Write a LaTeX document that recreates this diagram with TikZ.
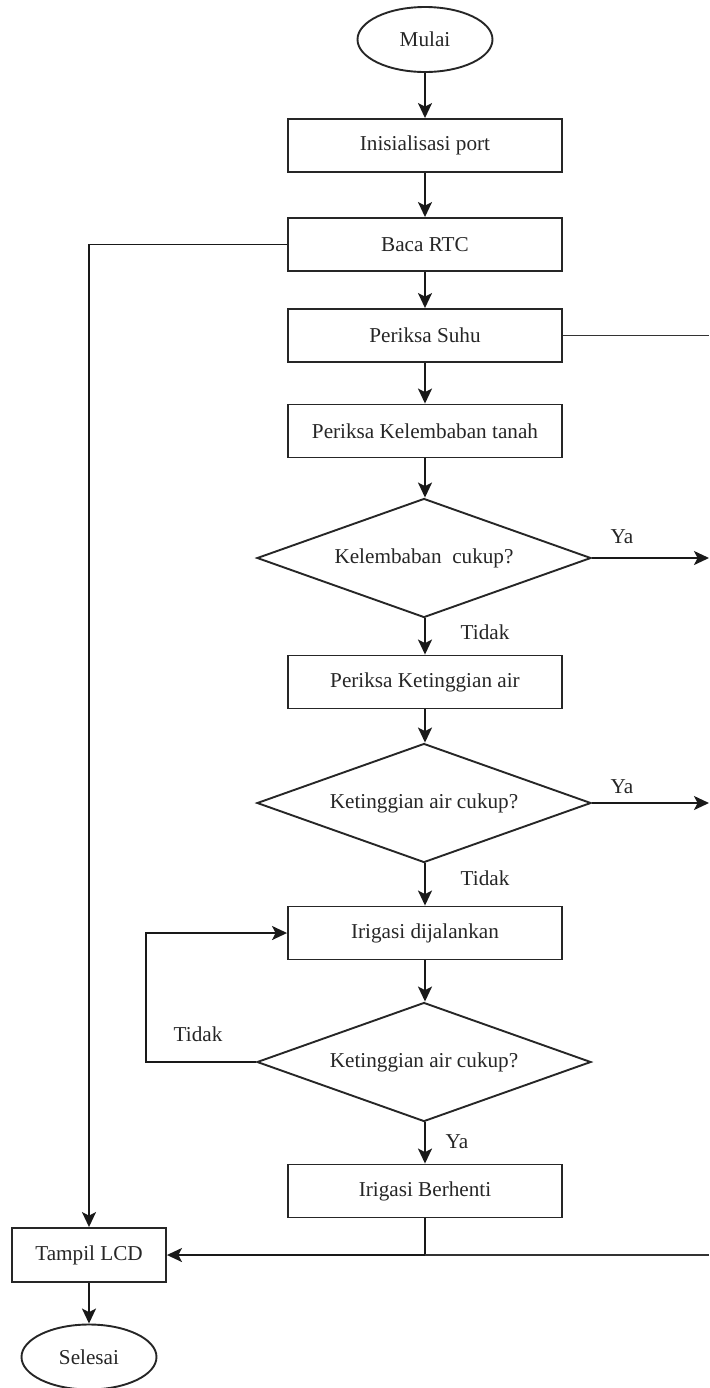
\documentclass[tikz,border=0pt]{standalone}
\usepackage{fontspec}
\setmainfont{Liberation Serif}
\usetikzlibrary{shapes.geometric,arrows.meta}
\begin{document}
\begin{tikzpicture}[x=0.5pt,y=-0.5pt,
 every node/.style={font=\fontsize{10.6}{12}\selectfont, text=black!85},
 proc/.style={draw=black!85, line width=0.95pt, minimum width=137pt, minimum height=26.5pt, inner sep=0pt},
 term/.style={draw=black!85, ellipse, line width=0.95pt, minimum width=67.5pt, minimum height=32.5pt, inner sep=0pt},
 dec/.style={draw=black!85, diamond, aspect=2.8, line width=0.95pt, minimum width=167pt, minimum height=59.5pt, inner sep=0pt},
 flow/.style={draw=black!90, line width=0.95pt, -{Stealth[length=7.5pt,width=7pt,inset=1.8pt]}},
 link/.style={draw=black!80, line width=0.95pt},
 lbl/.style={inner sep=0pt}]
\useasboundingbox (0,0) rectangle (709,1388);

\node[term] (mulai) at (425,39.5) {Mulai};
\node[proc] (init) at (425,145.5) {Inisialisasi port};
\node[proc] (baca) at (425,244.5) {Baca RTC};
\node[proc] (suhu) at (425,335.5) {Periksa Suhu};
\node[proc] (kel) at (425,431) {Periksa Kelembaban tanah};
\node[dec] (d1) at (424,558) {Kelembaban\ \ cukup?};
\node[proc] (ket) at (425,682) {Periksa Ketinggian air};
\node[dec] (d2) at (424,803) {Ketinggian air cukup?};
\node[proc] (irig) at (425,933) {Irigasi dijalankan};
\node[dec] (d3) at (424,1062) {Ketinggian air cukup?};
\node[proc] (stop) at (425,1191) {Irigasi Berhenti};
\node[proc, minimum width=77pt, minimum height=27pt] (lcd) at (89,1255) {Tampil LCD};
\node[term] (selesai) at (89,1357) {Selesai};

\node[lbl] (ya1) at (622,537) {Ya};
\node[lbl] (tidak1) at (485,632) {Tidak};
\node[lbl] (ya2) at (622,787) {Ya};
\node[lbl] (tidak2) at (485,878) {Tidak};
\node[lbl] (tidak3) at (198,1034) {Tidak};
\node[lbl] (ya3) at (457,1142) {Ya};

\coordinate (e0) at (709,335.5);
\coordinate (e1) at (709,558);
\coordinate (e2) at (709,803);
\coordinate (e3) at (709,1255);

\draw[flow] (mulai.south) -- (init.north);
\draw[flow] (init.south) -- (baca.north);
\draw[flow] (baca.south) -- (suhu.north);
\draw[flow] (suhu.south) -- (kel.north);
\draw[flow] (kel.south) -- (d1.north -| kel.south);
\draw[flow] (d1.south -| ket.north) -- (ket.north);
\draw[flow] (ket.south) -- (d2.north -| ket.south);
\draw[flow] (d2.south -| irig.north) -- (irig.north);
\draw[flow] (irig.south) -- (d3.north -| irig.south);
\draw[flow] (d3.south -| stop.north) -- (stop.north);
\draw[flow] (lcd.south) -- (selesai.north);

\draw[link] (suhu.east) -- (e0);
\draw[flow] (d1.east) -- (e1);
\draw[flow] (d2.east) -- (e2);
\draw[flow] (d3.west) -- ++(-110,0) |- (irig.west);
\draw[flow] (baca.west) -| (lcd.north);
\draw[flow] (stop.south) |- (lcd.east);
\draw[link] (e3) -- (stop.south |- lcd.east);
\end{tikzpicture}
\end{document}
